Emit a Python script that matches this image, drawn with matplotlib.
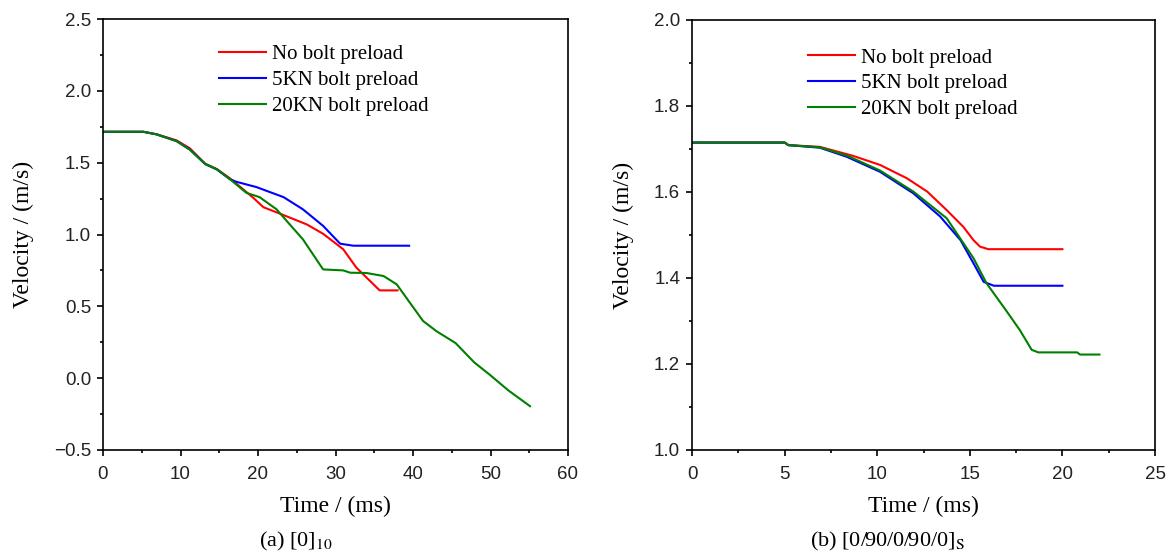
#!/usr/bin/env python3
import matplotlib

matplotlib.use("Agg")
import matplotlib.pyplot as plt
from matplotlib.ticker import MultipleLocator

# ---- panel (a) [0]10 ----
a_none_t = [0, 5.2, 6.9, 9.5, 11.2, 13.2, 14.7, 16.4, 18.1, 19.5, 20.7, 23.3,
            26.3, 28.4, 31.0, 32.7, 35.7, 38.0]
a_none_v = [1.715, 1.715, 1.698, 1.655, 1.600, 1.492, 1.455, 1.390, 1.314, 1.250,
            1.190, 1.135, 1.070, 1.005, 0.897, 0.769, 0.611, 0.611]

a_5kn_t = [0, 5.2, 6.9, 9.5, 11.2, 13.2, 14.7, 16.4, 17.2, 19.8, 23.3, 25.8,
           28.4, 30.6, 32.3, 39.5]
a_5kn_v = [1.715, 1.715, 1.697, 1.650, 1.592, 1.490, 1.453, 1.384, 1.367, 1.330,
           1.260, 1.175, 1.060, 0.936, 0.922, 0.922]

a_20kn_t = [0, 5.2, 6.9, 9.5, 11.2, 13.2, 14.7, 16.4, 18.5, 20.2, 22.4, 24.1,
            25.8, 28.4, 31.0, 31.9, 34.0, 36.2, 37.9, 39.6, 41.3, 43.0, 45.5,
            47.9, 49.9, 52.3, 55.1]
a_20kn_v = [1.715, 1.715, 1.697, 1.650, 1.590, 1.490, 1.453, 1.384, 1.290, 1.260,
            1.175, 1.070, 0.966, 0.757, 0.750, 0.734, 0.732, 0.711, 0.653, 0.525,
            0.398, 0.328, 0.244, 0.110, 0.024, -0.085, -0.195]

# ---- panel (b) [0/90/0/90/0]s ----
b_none_t = [0, 5.0, 5.2, 6.9, 8.7, 10.15, 11.6, 12.7, 13.75, 14.65, 15.2, 15.55,
            16.0, 20.0]
b_none_v = [1.715, 1.715, 1.709, 1.705, 1.684, 1.663, 1.632, 1.601, 1.558, 1.519,
            1.488, 1.473, 1.467, 1.467]

b_5kn_t = [0, 5.0, 5.2, 6.9, 8.35, 10.15, 11.95, 13.4, 14.5, 15.2, 15.75, 16.3,
           20.0]
b_5kn_v = [1.715, 1.715, 1.709, 1.703, 1.682, 1.647, 1.597, 1.543, 1.488, 1.434,
           1.391, 1.382, 1.382]

b_20kn_t = [0, 5.0, 5.2, 6.9, 8.4, 10.15, 11.95, 13.75, 15.2, 15.9, 17.0, 17.7,
            18.34, 18.7, 20.8, 20.95, 22.0]
b_20kn_v = [1.715, 1.715, 1.709, 1.704, 1.684, 1.650, 1.601, 1.539, 1.446, 1.388,
            1.322, 1.279, 1.233, 1.227, 1.227, 1.222, 1.222]

labels = ["No bolt preload", "5KN bolt preload", "20KN bolt preload"]
colors = ["#ff0000", "#0000ff", "#008000"]

SERIF = "Liberation Serif"
SANS = "Liberation Sans"


def style_axes(ax, xlim, ylim, xmaj, xmin, ymaj, ymin):
    ax.set_xlim(*xlim)
    ax.set_ylim(*ylim)
    ax.xaxis.set_major_locator(MultipleLocator(xmaj))
    ax.xaxis.set_minor_locator(MultipleLocator(xmin))
    ax.yaxis.set_major_locator(MultipleLocator(ymaj))
    ax.yaxis.set_minor_locator(MultipleLocator(ymin))
    ax.tick_params(which="both", direction="out", top=False, right=False,
                   width=1.2, colors="black")
    ax.tick_params(which="major", length=4.5)
    ax.tick_params(which="minor", length=2.2)
    ax.tick_params(axis="x", pad=7)
    ax.tick_params(axis="y", pad=4)
    for lab in ax.get_xticklabels() + ax.get_yticklabels():
        lab.set_fontfamily(SANS)
        lab.set_fontsize(13.5)
        lab.set_color("#222222")
    for sp in ax.spines.values():
        sp.set_linewidth(1.2)
    ax.set_xlabel("Time / (ms)", family=SERIF, fontsize=17, labelpad=9)
    ax.set_ylabel("Velocity / (m/s)", family=SERIF, fontsize=17, labelpad=14)


def draw_panel(ax, series, anchor):
    for (t, v), lab, col in zip(series, labels, colors):
        ax.plot(t, v, color=col, lw=1.5, label=lab)
    ax.legend(loc="upper left", bbox_to_anchor=anchor, frameon=False,
              prop={"family": SERIF, "size": 15}, handlelength=2.25,
              handletextpad=0.3, labelspacing=0.3, borderpad=0,
              borderaxespad=0)


def main():
    plt.rcParams["mathtext.fontset"] = "stix"
    fig = plt.figure(figsize=(11.66, 5.51), dpi=100)
    ax1 = fig.add_axes([103 / 1166, 1 - 450 / 551, 465 / 1166, 431 / 551])
    ax2 = fig.add_axes([692 / 1166, 1 - 450 / 551, 463 / 1166, 430 / 551])

    draw_panel(ax1, [(a_none_t, a_none_v), (a_5kn_t, a_5kn_v),
                     (a_20kn_t, a_20kn_v)], (0.25, 0.94))
    style_axes(ax1, (0, 60), (-0.5, 2.5), 10, 5, 0.5, 0.25)

    draw_panel(ax2, [(b_none_t, b_none_v), (b_5kn_t, b_5kn_v),
                     (b_20kn_t, b_20kn_v)], (0.25, 0.935))
    style_axes(ax2, (0, 25), (1.0, 2.0), 5, 2.5, 0.2, 0.1)

    fig.text(296 / 1166, 1 - 541 / 551, r"(a) [0]$_{10}$", family=SERIF,
             fontsize=16, ha="center", va="center")
    fig.text(887 / 1166, 1 - 541 / 551, r"(b) [0/90/0/90/0]$_\mathrm{S}$",
             family=SERIF, fontsize=16, ha="center", va="center")

    fig.savefig("out.png", dpi=100)
    plt.close(fig)


if __name__ == "__main__":
    main()
